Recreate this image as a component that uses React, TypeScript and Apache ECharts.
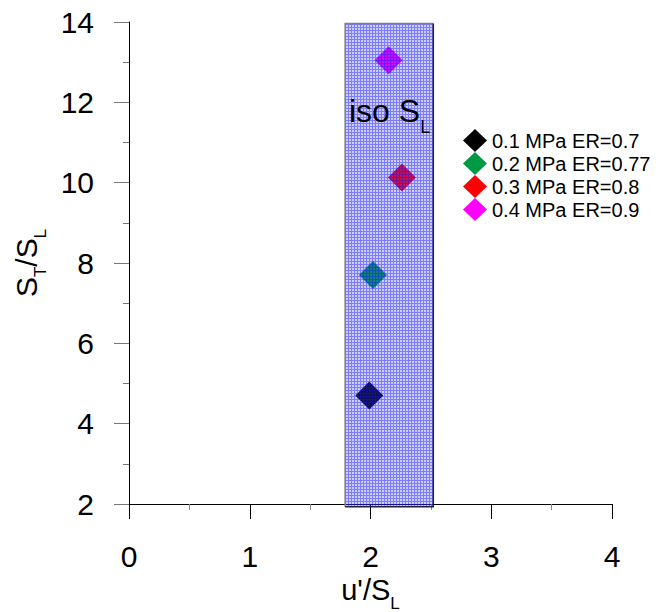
import React, { useEffect, useRef } from "react";
import * as echarts from "echarts";

const legendNames = ["0.1 MPa ER=0.7", "0.2 MPa ER=0.77", "0.3 MPa ER=0.8", "0.4 MPa ER=0.9"];
const seriesColors = ["#000000", "#009a44", "#ff0000", "#ff00ff"];
const xValues = [1.99, 2.02, 2.26, 2.15];
const yValues = [4.7, 7.7, 10.13, 13.05];
const isoBand = [1.79, 1.93, 2.52, 13.96]; // xmin, ymin, xmax, ymax
const xTicks = [0, 1, 2, 3, 4];
const yTicks = [2, 4, 6, 8, 10, 12, 14];

function makePattern(): HTMLCanvasElement {
  const c = document.createElement("canvas");
  c.width = 3;
  c.height = 3;
  const ctx = c.getContext("2d")!;
  ctx.fillStyle = "rgba(60,60,255,0.26)";
  ctx.fillRect(0, 0, 3, 3);
  ctx.clearRect(0, 0, 3, 1);
  ctx.clearRect(0, 1, 1, 2);
  ctx.fillStyle = "rgba(30,30,255,0.58)";
  ctx.fillRect(0, 0, 3, 1);
  ctx.fillRect(0, 1, 1, 2);
  return c;
}

export default function App() {
  const ref = useRef<HTMLDivElement>(null);
  useEffect(() => {
    const chart = echarts.init(ref.current!, undefined, { renderer: "svg" });
    const pattern = makePattern();
    const font = "'Liberation Sans', Arial, sans-serif";
    const scatterSeries = legendNames.map((name, i) => ({
      type: "scatter",
      name,
      data: [[xValues[i], yValues[i]]],
      symbol: "diamond",
      symbolSize: 28,
      itemStyle: { color: seriesColors[i], opacity: 1 },
      z: 2,
    }));
    const yNameRich = {
      a: { fontFamily: font, fontSize: 30, color: "#000", padding: [0, 0, 8, 0], verticalAlign: "top" },
      b: { fontFamily: font, fontSize: 17, color: "#000", verticalAlign: "bottom" },
    };
    const xNameRich = {
      a: { fontFamily: font, fontSize: 29, color: "#000", padding: [0, 0, 7, 0], verticalAlign: "top" },
      b: { fontFamily: font, fontSize: 17, color: "#000", verticalAlign: "bottom" },
    };
    chart.setOption({
      animation: false,
      backgroundColor: "#ffffff",
      grid: { left: 129, top: 22, right: 49, bottom: 108, containLabel: false, outerBoundsMode: "none" },
      legend: {
        orient: "vertical",
        left: 463,
        top: 129,
        padding: 0,
        itemWidth: 24,
        itemHeight: 23,
        itemGap: 0,
        icon: "diamond",
        textStyle: { fontFamily: font, fontSize: 20, color: "#000" },
        data: legendNames,
        selectedMode: false,
      },
      xAxis: {
        type: "value",
        min: xTicks[0],
        max: xTicks[xTicks.length - 1],
        interval: 1,
        name: "{a|u'/S}{b|L}",
        nameLocation: "middle",
        nameGap: 57,
        nameTextStyle: { rich: xNameRich },
        axisLine: { onZero: false, lineStyle: { color: "#000", width: 1 } },
        axisTick: { show: true, inside: false, length: 15, lineStyle: { color: "#000" } },
        minorTick: { show: true, splitNumber: 2, length: 6, lineStyle: { color: "#888" } },
        splitLine: { show: false },
        axisLabel: { fontFamily: font, fontSize: 30, color: "#000", margin: 37 },
      },
      yAxis: {
        type: "value",
        min: yTicks[0],
        max: yTicks[yTicks.length - 1],
        interval: 2,
        name: "{a|S}{b|T}{a|/S}{b|L}",
        nameLocation: "middle",
        nameGap: 80,
        nameRotate: 90,
        nameTextStyle: { rich: yNameRich },
        axisLine: { onZero: false, lineStyle: { color: "#000", width: 1 } },
        axisTick: { show: true, inside: false, length: 15, lineStyle: { color: "#777" } },
        minorTick: { show: true, splitNumber: 2, length: 6, lineStyle: { color: "#777" } },
        splitLine: { show: false },
        axisLabel: { fontFamily: font, fontSize: 30, color: "#000", margin: 35 },
      },
      series: [
        ...scatterSeries,
        {
          type: "custom",
          name: "iso",
          z: 5,
          silent: true,
          data: [isoBand],
          renderItem: (params: any, api: any) => {
            const p0 = api.coord([api.value(0), api.value(3)]);
            const p1 = api.coord([api.value(2), api.value(1)]);
            return {
              type: "group",
              children: [
                {
                  type: "rect",
                  shape: { x: p0[0], y: p0[1], width: p1[0] - p0[0], height: p1[1] - p0[1] },
                  style: { fill: { image: pattern, repeat: "repeat" } as any, stroke: null },
                },
                {
                  type: "polyline",
                  shape: { points: [[p0[0], p1[1]], [p0[0], p0[1]], [p1[0], p0[1]]] },
                  style: { stroke: "#808080", lineWidth: 1.5, fill: null },
                },
                {
                  type: "polyline",
                  shape: { points: [[p1[0], p0[1]], [p1[0], p1[1]], [p0[0], p1[1]]] },
                  style: { stroke: "#202040", lineWidth: 1.5, fill: null },
                },
              ],
            };
          },
        },
      ],
      graphic: [
        {
          type: "text",
          left: 349,
          top: 95,
          z: 10,
          style: {
            text: "{a|iso S}{b|L}",
            rich: {
              a: { fontFamily: font, fontSize: 32, fill: "#000", padding: [0, 0, 9, 0], verticalAlign: "top" },
              b: { fontFamily: font, fontSize: 18, fill: "#000", verticalAlign: "bottom" },
            },
          },
        },
      ],
    });
    return () => chart.dispose();
  }, []);
  return <div ref={ref} style={{ width: 661, height: 612, position: "absolute", left: 0, top: 0 }} />;
}
